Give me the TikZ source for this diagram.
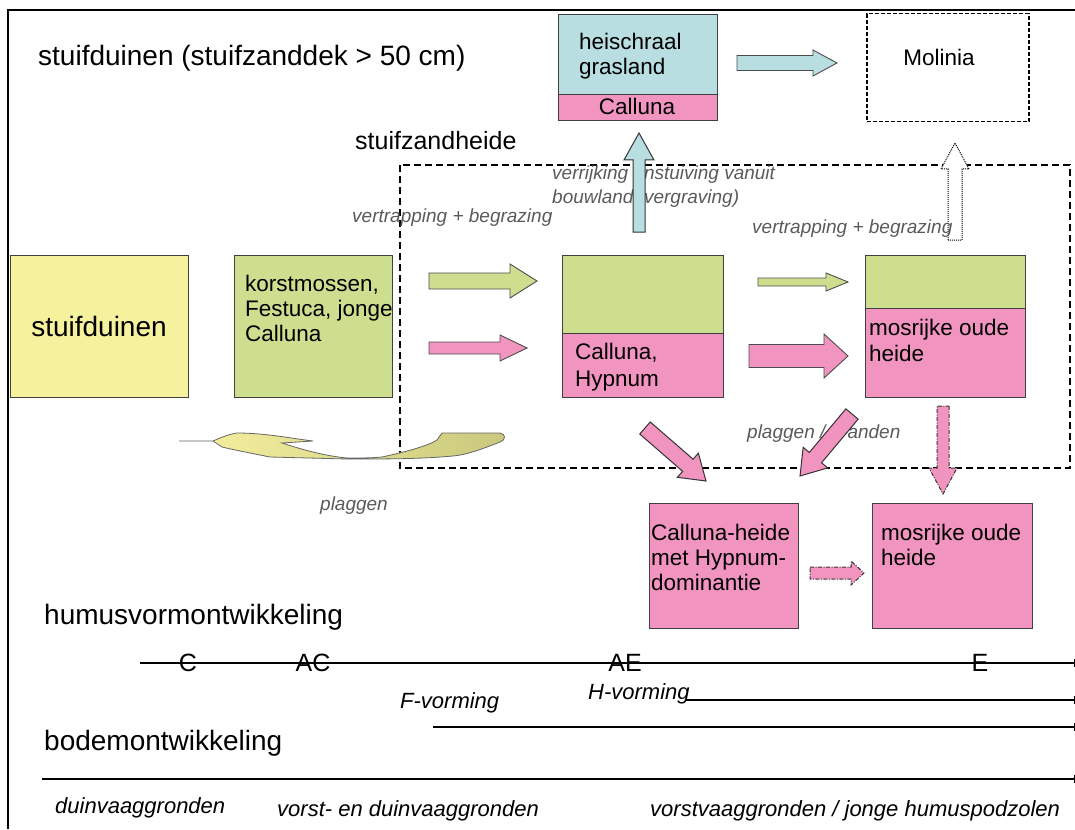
\documentclass[tikz,border=0pt]{standalone}
\usepackage{fontspec}
\setmainfont{Liberation Sans}
\usetikzlibrary{arrows.meta}
\definecolor{cyel}{HTML}{F6F19C}
\definecolor{cgrn}{HTML}{CDDF8F}
\definecolor{cpnk}{HTML}{F294C0}
\definecolor{cblu}{HTML}{B8DEE1}
\definecolor{colv}{HTML}{C9C87C}
\definecolor{cgry}{HTML}{5A5A5A}
\newdimen\BAxa \newdimen\BAya \newdimen\BAxb \newdimen\BAyb
% block arrow: style, from, to, shaft half width, head half width, head length
\newcommand{\blockarr}[6]{%
 \pgfextractx{\BAxa}{\pgfpointanchor{#2}{center}}%
 \pgfextracty{\BAya}{\pgfpointanchor{#2}{center}}%
 \pgfextractx{\BAxb}{\pgfpointanchor{#3}{center}}%
 \pgfextracty{\BAyb}{\pgfpointanchor{#3}{center}}%
 \pgfmathsetmacro\BAang{atan2((\the\BAyb)-(\the\BAya),(\the\BAxb)-(\the\BAxa))}%
 \pgfmathsetmacro\BAlen{veclen((\the\BAxb)-(\the\BAxa),(\the\BAyb)-(\the\BAya))}%
 \pgfmathsetmacro\BAb{\BAlen-#6}%
 \begin{scope}[shift={(\the\BAxa,\the\BAya)},rotate=\BAang]
 \draw[#1] (0pt,#4pt) -- (\BAb pt,#4pt) -- (\BAb pt,#5pt) -- (\BAlen pt,0pt)
   -- (\BAb pt,-#5pt) -- (\BAb pt,-#4pt) -- (0pt,-#4pt) -- cycle;
 \end{scope}}
\tikzset{
  box/.style={draw=black!75, line width=0.8pt, inner sep=0pt, anchor=north west},
  big/.style={font=\fontsize{28}{33}\selectfont, inner sep=0pt, anchor=base west},
  mid/.style={font=\fontsize{22.5}{26}\selectfont, inner sep=0pt, anchor=base west},
  lbl/.style={font=\fontsize{19}{23}\selectfont\itshape, text=cgry, inner sep=0pt, anchor=base west},
  soil/.style={font=\fontsize{22}{26}\selectfont\itshape, inner sep=0pt, anchor=base west},
  hor/.style={font=\fontsize{25}{30}\selectfont, inner sep=0pt, anchor=base},
  tl/.style={line width=1.3pt, -{Bar[width=8pt,line width=1pt]}},
  arrsolid/.style={draw=black!70, line width=0.9pt},
  arrdash/.style={draw=black!80, line width=1pt, dash pattern=on 4pt off 1.5pt on 1pt off 1.5pt},
}
\begin{document}
\begin{tikzpicture}[x=1pt,y=-1pt]
\useasboundingbox (0,0) rectangle (1075,829);
% frame
\draw[line width=2.5pt] (1075,10) -- (8,10) -- (8,829);
% titles
\node[big] (title) at (38,66) {stuifduinen (stuifzanddek > 50 cm)};
\node[big, font=\fontsize{25}{30}\selectfont] (szh) at (355,150) {stuifzandheide};
% stuifzandheide region
\draw[line width=1.3pt, dash pattern=on 7pt off 4pt] (400,165) rectangle (1070,468);
% labels (drawn before arrows so arrows cover them)
\node[lbl] (verr1) at (552,179) {verrijking (instuiving vanuit};
\node[lbl] (verr2) at (552,204) {bouwland, vergraving)};
\node[lbl] (vb1) at (352,222) {vertrapping + begrazing};
\node[lbl] (pb) at (747,438) {plaggen / branden};
\node[lbl] (plag) at (320,510) {plaggen};
% top boxes
\node[box, fill=cblu, minimum width=159pt, minimum height=80pt] (heiB) at (558,14) {};
\node[box, fill=cpnk, minimum width=159pt, minimum height=26pt] (heiP) at (558,94) {};
\node[mid] (hei1) at (579,50) {heischraal};
\node[mid] (hei2) at (579,75) {grasland};
\node[mid, anchor=base] (heiC) at (637,115) {Calluna};
\node[box, draw=black, line width=1.5pt, dash pattern=on 4pt off 2pt, minimum width=162pt, minimum height=108pt] (mol) at (866,13) {};
\node[mid, anchor=base] (molT) at (939,66) {Molinia};
% row boxes
\node[box, fill=cyel, minimum width=178pt, minimum height=142pt] (sd) at (10,255) {};
\node[big, anchor=base] (sdT) at (99,336) {stuifduinen};
\node[box, fill=cgrn, minimum width=158pt, minimum height=142pt] (ks) at (234,255) {};
\node[mid] (ks1) at (245,291) {korstmossen,};
\node[mid] (ks2) at (245,316) {Festuca, jonge};
\node[mid] (ks3) at (245,341) {Calluna};
\node[box, fill=cgrn, minimum width=161pt, minimum height=78pt] (chG) at (562,255) {};
\node[box, fill=cpnk, minimum width=161pt, minimum height=64pt] (chP) at (562,333) {};
\node[mid] (ch1) at (575,359) {Calluna,};
\node[mid] (ch2) at (575,386) {Hypnum};
\node[box, fill=cgrn, minimum width=160pt, minimum height=53pt] (moG) at (865,255) {};
\node[box, fill=cpnk, minimum width=160pt, minimum height=89pt] (moP) at (865,308) {};
\node[mid] (mo1) at (869,335) {mosrijke oude};
\node[mid] (mo2) at (869,361) {heide};
% lower boxes
\node[box, fill=cpnk, minimum width=149pt, minimum height=125pt] (chd) at (649,503) {};
\node[mid] (chd1) at (651,540) {Calluna-heide};
\node[mid] (chd2) at (651,565) {met Hypnum-};
\node[mid] (chd3) at (651,590) {dominantie};
\node[box, fill=cpnk, minimum width=160pt, minimum height=125pt] (mol2) at (872,503) {};
\node[mid] (mol21) at (881,540) {mosrijke oude};
\node[mid] (mol22) at (881,565) {heide};
% arrow end points
\coordinate (a1s) at (429,281); \coordinate (a1e) at (537,281);
\coordinate (a2s) at (429,348); \coordinate (a2e) at (527,348);
\coordinate (a3s) at (758,282); \coordinate (a3e) at (848,282);
\coordinate (a4s) at (749,356); \coordinate (a4e) at (848,356);
\coordinate (a5s) at (737,63);  \coordinate (a5e) at (837,63);
\coordinate (a6s) at (639,232); \coordinate (a6e) at (639,133);
\coordinate (a7s) at (955,240); \coordinate (a7e) at (955,143);
\coordinate (a8s) at (943,406); \coordinate (a8e) at (943,494);
\coordinate (a9s) at (645,428); \coordinate (a9e) at (706,481);
\coordinate (a10s) at (852,414); \coordinate (a10e) at (800,476);
\coordinate (a11s) at (810,573); \coordinate (a11e) at (864,573);
% block arrows
\blockarr{arrsolid, fill=cgrn}{a1s}{a1e}{8}{17}{27}
\blockarr{arrsolid, fill=cpnk}{a2s}{a2e}{6}{13}{27}
\blockarr{arrsolid, fill=cgrn}{a3s}{a3e}{4}{9}{22}
\blockarr{arrsolid, fill=cpnk}{a4s}{a4e}{11.5}{22}{24}
\blockarr{arrsolid, fill=cblu}{a5s}{a5e}{7.5}{13}{24}
\blockarr{draw=black!80, line width=1pt, fill=cblu}{a6s}{a6e}{6}{15}{27}
\blockarr{draw=black, line width=1pt, densely dotted, fill=white}{a7s}{a7e}{7}{14}{26}
\blockarr{arrdash, fill=cpnk}{a8s}{a8e}{6}{14}{26}
\blockarr{draw=black!80, line width=1pt, fill=cpnk}{a9s}{a9e}{8}{16}{24}
\blockarr{draw=black!80, line width=1pt, fill=cpnk}{a10s}{a10e}{8}{16}{24}
\blockarr{arrdash, fill=cpnk}{a11s}{a11e}{6}{12}{13}
\node[lbl] (vb2) at (752,233) {vertrapping + begrazing};
% plaggen curved arrow
\draw[draw=black!60, line width=0.8pt, left color=cyel!95!white, right color=colv]
 (179,441) -- (213,441) .. controls (222,437) and (230,434) .. (237,433)
 .. controls (260,433) and (285,437) .. (298,439) -- (313,441) -- (282,443)
 .. controls (300,449) and (325,456) .. (347,458)
 .. controls (365,458) and (372,458) .. (382,457)
 .. controls (405,452) and (428,446) .. (437,440)
 -- (442,433) -- (500,433)
 .. controls (506,434) and (506,440) .. (500,442)
 .. controls (480,450) and (465,455) .. (453,456)
 .. controls (420,459) and (390,459) .. (347,459)
 -- (270,457)
 .. controls (245,452) and (230,449) .. (222,447)
 -- (213,441) -- cycle;
% humus / soil section
\node[big] (humus) at (44,624) {humusvormontwikkeling};
\coordinate (l1s) at (140,663); \coordinate (l1e) at (1075,663);
\draw[tl] (l1s) -- (l1e);
\node[hor] (hC) at (188,671) {C};
\node[hor] (hAC) at (313,671) {AC};
\node[hor] (hAE) at (625,671) {AE};
\node[hor] (hE) at (980,671) {E};
\node[soil] (fv) at (400,708) {F-vorming};
\node[soil] (hv) at (588,699) {H-vorming};
\coordinate (l2s) at (685,700); \coordinate (l2e) at (1075,700);
\draw[tl] (l2s) -- (l2e);
\coordinate (l3s) at (433,727); \coordinate (l3e) at (1075,727);
\draw[tl] (l3s) -- (l3e);
\node[big] (bodem) at (44,750) {bodemontwikkeling};
\coordinate (l4s) at (42,779); \coordinate (l4e) at (1075,779);
\draw[tl] (l4s) -- (l4e);
\node[soil] (s1) at (55,813) {duinvaaggronden};
\node[soil] (s2) at (277,816) {vorst- en duinvaaggronden};
\node[soil] (s3) at (650,816) {vorstvaaggronden / jonge humuspodzolen};
\end{tikzpicture}
\end{document}
